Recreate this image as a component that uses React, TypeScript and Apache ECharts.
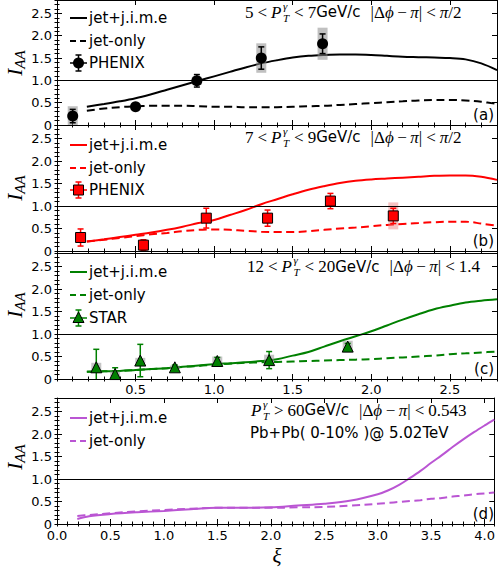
import React, { useEffect, useRef } from 'react';
import * as echarts from 'echarts';

// ---------- data ----------
const panelXMax = [2.8, 2.8, 2.8, 4.09];
const yMax = 2.8;

const xRhic = [0.19, 0.3, 0.4, 0.5, 0.6, 0.7, 0.8, 0.9, 1.0, 1.1, 1.2, 1.3, 1.4, 1.5, 1.6, 1.7, 1.8, 1.9, 2.0, 2.1, 2.2, 2.3, 2.4, 2.5, 2.6, 2.7, 2.8];
const jimeA = [0.41, 0.47, 0.53, 0.60, 0.69, 0.79, 0.89, 0.99, 1.09, 1.19, 1.29, 1.38, 1.45, 1.51, 1.55, 1.57, 1.58, 1.58, 1.57, 1.55, 1.53, 1.52, 1.51, 1.50, 1.47, 1.38, 1.23];
const jetOnlyA = [0.32, 0.37, 0.40, 0.42, 0.43, 0.43, 0.43, 0.42, 0.41, 0.41, 0.40, 0.40, 0.40, 0.41, 0.42, 0.43, 0.45, 0.47, 0.49, 0.51, 0.53, 0.55, 0.56, 0.56, 0.55, 0.52, 0.47];
const jimeB = [0.21, 0.26, 0.31, 0.36, 0.41, 0.47, 0.54, 0.62, 0.69, 0.80, 0.91, 1.04, 1.15, 1.26, 1.36, 1.44, 1.51, 1.56, 1.59, 1.61, 1.63, 1.65, 1.67, 1.68, 1.68, 1.65, 1.58];
const jetOnlyB = [0.21, 0.25, 0.29, 0.33, 0.37, 0.40, 0.44, 0.47, 0.48, 0.47, 0.45, 0.43, 0.42, 0.42, 0.44, 0.47, 0.50, 0.52, 0.55, 0.58, 0.60, 0.62, 0.64, 0.65, 0.65, 0.61, 0.56];
const jimeC = [0.16, 0.17, 0.18, 0.20, 0.22, 0.24, 0.27, 0.30, 0.33, 0.35, 0.37, 0.40, 0.44, 0.52, 0.60, 0.72, 0.84, 0.95, 1.06, 1.19, 1.32, 1.44, 1.55, 1.63, 1.70, 1.74, 1.77];
const jetOnlyC = [0.16, 0.17, 0.18, 0.20, 0.22, 0.24, 0.27, 0.29, 0.32, 0.34, 0.36, 0.37, 0.38, 0.39, 0.40, 0.41, 0.42, 0.43, 0.44, 0.46, 0.48, 0.50, 0.52, 0.55, 0.57, 0.59, 0.61];

const xLhc = [0.19, 0.3, 0.5, 0.75, 1.0, 1.25, 1.5, 1.75, 2.0, 2.25, 2.5, 2.75, 3.0, 3.1, 3.2, 3.3, 3.4, 3.5, 3.6, 3.7, 3.8, 3.9, 4.0, 4.09];
const jimeD = [0.11, 0.17, 0.22, 0.26, 0.29, 0.33, 0.36, 0.36, 0.37, 0.41, 0.45, 0.52, 0.66, 0.75, 0.87, 1.02, 1.18, 1.36, 1.53, 1.71, 1.88, 2.04, 2.19, 2.32];
const jetOnlyD = [0.18, 0.20, 0.24, 0.28, 0.31, 0.34, 0.36, 0.36, 0.36, 0.37, 0.38, 0.41, 0.45, 0.47, 0.49, 0.51, 0.53, 0.56, 0.58, 0.61, 0.63, 0.66, 0.68, 0.70];

const phenixAX = [0.10, 0.50, 0.89, 1.30, 1.69];
const phenixAY = [0.20, 0.41, 0.99, 1.50, 1.82];
const phenixAStat = [0.15, 0.04, 0.14, 0.25, 0.22];
const phenixASys = [0.22, 0.07, 0.09, 0.33, 0.36];

const phenixBX = [0.15, 0.55, 0.95, 1.34, 1.74, 2.14];
const phenixBY = [0.30, 0.13, 0.73, 0.73, 1.11, 0.78];
const phenixBStat = [0.19, 0.12, 0.22, 0.18, 0.17, 0.17];
const phenixBSys = [0.06, 0.08, 0.07, 0.08, 0.08, 0.30];

const starCX = [0.25, 0.37, 0.53, 0.75, 1.02, 1.35, 1.85];
const starCY = [0.26, 0.11, 0.41, 0.26, 0.40, 0.42, 0.72];
const starCStat = [0.40, 0.14, 0.36, 0.05, 0.08, 0.19, 0.07];
const starCSys = [0.10, 0.06, 0.06, 0.04, 0.10, 0.12, 0.13];

const legendLabels = ['jet+j.i.m.e', 'jet-only'];
const dataLabels = ['PHENIX', 'PHENIX', 'STAR'];
const panelTags = ['(a)', '(b)', '(c)', '(d)'];

// ---------- styling ----------
const SERIF = '"Liberation Serif", "DejaVu Serif", serif';
const SANS = '"DejaVu Sans", sans-serif';
const COLORS = ['#000000', '#ff0000', '#008000', '#ba55d3'];
const BOXCOLORS = ['rgba(140,140,140,0.55)', 'rgba(235,120,120,0.45)', 'rgba(140,140,140,0.5)'];
const MATH_SIZE = 17;
const grids = [
  { left: 57, right: 1, top: -1, height: 126 },
  { left: 57, right: 1, top: 125, height: 126 },
  { left: 57, right: 1, top: 253, height: 126 },
  { left: 57, right: 1, top: 398, height: 126 },
];

export default function App() {
  const ref = useRef<HTMLDivElement>(null);
  useEffect(() => {
    const el = ref.current!;
    const chart = echarts.init(el, undefined, { renderer: 'svg' });
    const ctx = document.createElement('canvas').getContext('2d')!;
    const tw = (s: string, f: string) => { ctx.font = f; return ctx.measureText(s).width; };

    const txt = (x: number, y: number, s: string, f: string, align = 'left', color = '#000') => ({
      type: 'text', x, y, silent: true,
      style: { text: s, font: f, fill: color, textAlign: align, textVerticalAlign: 'middle', verticalAlign: 'middle' },
    });

    type Part = { t?: string; it?: boolean; fam?: string; size?: number; sup?: string; sub?: string; gap?: number };
    const mathLine = (x0: number, y: number, parts: Part[]) => {
      const els: any[] = [];
      let x = x0;
      for (const p of parts) {
        if (p.gap !== undefined) { x += p.gap; continue; }
        if (p.sup !== undefined) {
          const f = `italic 11px ${SERIF}`;
          const w = Math.max(tw(p.sup, f), tw(p.sub || '', f));
          els.push(txt(x, y - 6.5, p.sup, f));
          els.push(txt(x, y + 5.5, p.sub || '', f));
          x += w + 1;
        } else {
          const fs = p.size ?? MATH_SIZE;
          const f = `${p.it ? 'italic ' : ''}${fs}px ${p.fam ?? SERIF}`;
          els.push(txt(x, y, p.t || '', f));
          x += tw(p.t || '', f);
        }
      }
      return els;
    };
    const lt = (gap = 4): Part[] => [{ gap }, { t: '<' }, { gap }];
    const gev: Part = { t: 'GeV/c', fam: SANS, size: 15 };
    const dphi = (rhs: Part[]): Part[] => [
      { gap: 10 }, { t: '|Δ' }, { t: 'ϕ', it: true }, { gap: 3.5 }, { t: '−' }, { gap: 3.5 }, { t: 'π', it: true }, { t: '|' },
      ...lt(), ...rhs,
    ];
    const pt: Part[] = [{ t: 'P', it: true }, { gap: 1.5 }, { sup: 'γ', sub: 'T' }];
    const ptRange = (lo: string, hi: string): Part[] => [
      { t: lo }, ...lt(), ...pt, ...lt(), { t: hi }, gev,
    ];

    const graphics: any[] = [];
    graphics.push(...mathLine(245, 12, [...ptRange('5', '7'), ...dphi([{ t: 'π', it: true }, { t: '/2' }])]));
    graphics.push(...mathLine(245, 137, [...ptRange('7', '9'), ...dphi([{ t: 'π', it: true }, { t: '/2' }])]));
    graphics.push(...mathLine(247, 266.5, [...ptRange('12', '20'), ...dphi([{ t: '1.4' }])]));
    graphics.push(...mathLine(251, 410, [...pt, { gap: 4 }, { t: '>' }, { gap: 4 }, { t: '60' }, gev, ...dphi([{ t: '0.543' }])]));
    graphics.push(txt(250, 433, 'Pb+Pb( 0-10% )@ 5.02TeV', `15px ${SANS}`));

    // legends
    const legendY = [[18, 41, 63], [145, 168, 190], [272, 295, 318], [418, 441]];
    const LF = `15px ${SANS}`;
    legendY.forEach((ys, i) => {
      const c = COLORS[i];
      graphics.push({ type: 'line', silent: true, shape: { x1: 70, y1: ys[0], x2: 87, y2: ys[0] }, style: { stroke: c, lineWidth: 2 } });
      graphics.push(txt(89, ys[0], legendLabels[0], LF));
      graphics.push({ type: 'line', silent: true, shape: { x1: 70, y1: ys[1], x2: 87, y2: ys[1] }, style: { stroke: c, lineWidth: 2, lineDash: [6, 4] } });
      graphics.push(txt(89, ys[1], legendLabels[1], LF));
      if (ys.length > 2) {
        const y = ys[2], mx = 78.5;
        graphics.push({ type: 'line', silent: true, shape: { x1: 70, y1: y, x2: 87, y2: y }, style: { stroke: c, lineWidth: 1.5 } });
        graphics.push({ type: 'line', silent: true, shape: { x1: mx, y1: y - 8, x2: mx, y2: y + 8 }, style: { stroke: c, lineWidth: 1.5 } });
        graphics.push({ type: 'line', silent: true, shape: { x1: mx - 3, y1: y - 8, x2: mx + 3, y2: y - 8 }, style: { stroke: c, lineWidth: 1.5 } });
        graphics.push({ type: 'line', silent: true, shape: { x1: mx - 3, y1: y + 8, x2: mx + 3, y2: y + 8 }, style: { stroke: c, lineWidth: 1.5 } });
        if (i === 0) graphics.push({ type: 'circle', silent: true, shape: { cx: mx, cy: y, r: 5.5 }, style: { fill: c } });
        if (i === 1) graphics.push({ type: 'rect', silent: true, shape: { x: mx - 5, y: y - 5, width: 10, height: 10 }, style: { fill: c, stroke: '#000', lineWidth: 1 } });
        if (i === 2) graphics.push({ type: 'polygon', silent: true, shape: { points: [[mx, y - 6], [mx - 5.5, y + 4.5], [mx + 5.5, y + 4.5]] }, style: { fill: c, stroke: '#000', lineWidth: 1 } });
        graphics.push(txt(89, y, dataLabels[i], LF));
      }
    });

    // panel tags
    const tagY = [114.5, 240.7, 369.3, 514.3];
    tagY.forEach((y, i) => graphics.push(txt(494, y, panelTags[i], LF, 'right')));

    // I_AA labels
    const iaaY = [63, 188, 305, 457];
    const fI = `italic 21px ${SERIF}`, fA = `italic 15px ${SERIF}`;
    const wI = tw('I', fI), wA = tw('AA', fA), W = wI + wA;
    iaaY.forEach((cy) => {
      graphics.push({
        type: 'group', x: 15, y: cy, rotation: Math.PI / 2, silent: true,
        children: [txt(-W / 2, 0, 'I', fI), txt(-W / 2 + wI, 5, 'AA', fA)],
      });
    });
    graphics.push(txt(277, 556, 'ξ', `italic 21px ${SERIF}`, 'center'));

    // axes
    const xAxes: any[] = [];
    const yAxes: any[] = [];
    const tickStyle = { color: '#000', width: 1 };
    const lab = { fontSize: 13, fontFamily: SANS, color: '#000' };
    grids.forEach((g, i) => {
      const xmax = panelXMax[i];
      const base = { type: 'value', gridIndex: i, splitLine: { show: false }, axisLine: { show: false }, axisTick: { show: false }, axisLabel: { show: false }, silent: true };
      for (const pos of ['bottom', 'top']) {
        xAxes.push({
          ...base, position: pos, min: 0, max: xmax, interval: 0.5,
          axisLine: { show: true, onZero: false, lineStyle: tickStyle },
          axisTick: { show: true, inside: true, length: 5, lineStyle: tickStyle },
          axisLabel: pos === 'bottom' && i >= 2 ? {
            show: true, ...lab, margin: i === 2 ? 4 : 5, showMaxLabel: false, showMinLabel: i === 3,
            formatter: (v: number) => v.toFixed(1),
          } : { show: false },
        });
        xAxes.push({ ...base, position: pos, min: 0, max: xmax, interval: 0.1, axisTick: { show: true, inside: true, length: 2.5, lineStyle: tickStyle } });
      }
      for (const pos of ['left', 'right']) {
        yAxes.push({
          ...base, position: pos, min: 0, max: yMax, interval: 0.5,
          axisLine: { show: true, onZero: false, lineStyle: tickStyle },
          axisTick: { show: true, inside: true, length: 5, lineStyle: tickStyle },
          axisLabel: pos === 'left' ? {
            show: true, ...lab, margin: 5, showMaxLabel: false,
            formatter: (v: number) => (v === 0 ? '0' : v.toFixed(1)),
          } : { show: false },
        });
        yAxes.push({ ...base, position: pos, min: 0, max: yMax, interval: 0.1, axisTick: { show: true, inside: true, length: 2.5, lineStyle: tickStyle } });
      }
    });

    const lineSeries = (i: number, xs: number[], ys: number[], dashed: boolean) => ({
      type: 'line', xAxisIndex: i * 4, yAxisIndex: i * 4, silent: true, z: 2,
      data: xs.map((x, k) => [x, ys[k]]), symbol: 'none', showSymbol: false, smooth: 0.35,
      lineStyle: { color: COLORS[i], width: 2, type: dashed ? [8, 4.5] : 'solid' },
      ...(dashed ? {} : {
        markLine: {
          silent: true, symbol: 'none', label: { show: false }, animation: false,
          lineStyle: { color: '#000', width: 1, type: 'solid' }, data: [{ yAxis: 1 }],
        },
      }),
    });

    const errSeries = (i: number, xs: number[], ys: number[], st: number[], sy: number[]) => ({
      type: 'custom', xAxisIndex: i * 4, yAxisIndex: i * 4, clip: true, z: 3, silent: true,
      data: xs.map((x, k) => [x, ys[k], st[k], sy[k]]),
      renderItem: (_p: any, api: any) => {
        const x = api.value(0), y = api.value(1), s = api.value(2), b = api.value(3);
        const c = api.coord([x, y]);
        const bt = api.coord([x, y + b]), bb = api.coord([x, y - b]);
        const s1 = api.coord([x, y + s]), s2 = api.coord([x, y - s]);
        const col = COLORS[i];
        const ls = { stroke: col, lineWidth: 1.5 };
        return {
          type: 'group', children: [
            { type: 'rect', shape: { x: c[0] - 5, y: bt[1], width: 10, height: bb[1] - bt[1] }, style: { fill: BOXCOLORS[i] } },
            { type: 'line', shape: { x1: c[0], y1: s1[1], x2: c[0], y2: s2[1] }, style: ls },
            { type: 'line', shape: { x1: c[0] - 3, y1: s1[1], x2: c[0] + 3, y2: s1[1] }, style: ls },
            { type: 'line', shape: { x1: c[0] - 3, y1: s2[1], x2: c[0] + 3, y2: s2[1] }, style: ls },
          ],
        };
      },
    });

    const scatterSeries = (i: number, xs: number[], ys: number[], symbol: string, size: number, border: boolean) => ({
      type: 'scatter', xAxisIndex: i * 4, yAxisIndex: i * 4, silent: true, z: 4,
      data: xs.map((x, k) => [x, ys[k]]), symbol, symbolSize: size,
      itemStyle: { color: COLORS[i], borderColor: '#000', borderWidth: border ? 1 : 0, opacity: 1 },
    });

    const series: any[] = [
      lineSeries(0, xRhic, jimeA, false), lineSeries(0, xRhic, jetOnlyA, true),
      lineSeries(1, xRhic, jimeB, false), lineSeries(1, xRhic, jetOnlyB, true),
      lineSeries(2, xRhic, jimeC, false), lineSeries(2, xRhic, jetOnlyC, true),
      lineSeries(3, xLhc, jimeD, false), lineSeries(3, xLhc, jetOnlyD, true),
      errSeries(0, phenixAX, phenixAY, phenixAStat, phenixASys),
      errSeries(1, phenixBX, phenixBY, phenixBStat, phenixBSys),
      errSeries(2, starCX, starCY, starCStat, starCSys),
      scatterSeries(0, phenixAX, phenixAY, 'circle', 11, false),
      scatterSeries(1, phenixBX, phenixBY, 'rect', 10, true),
      scatterSeries(2, starCX, starCY, 'triangle', 11, true),
    ];

    chart.setOption({
      animation: false,
      backgroundColor: '#ffffff',
      grid: grids,
      xAxis: xAxes,
      yAxis: yAxes,
      series,
      graphic: graphics,
    });
    return () => chart.dispose();
  }, []);
  return <div ref={ref} style={{ position: 'fixed', left: 0, top: 0, width: 498, height: 571 }} />;
}
